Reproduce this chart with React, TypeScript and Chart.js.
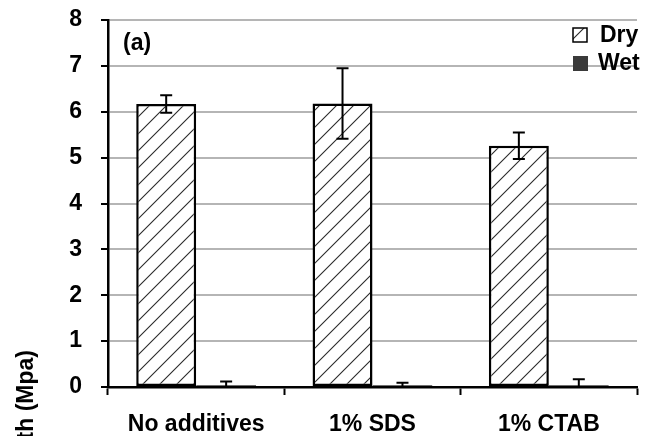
import React, { useEffect, useRef } from "react";
import { Chart, registerables } from "chart.js";

Chart.register(...registerables);

const categories = ["No additives", "1% SDS", "1% CTAB"];
const dryValues = [6.17, 6.18, 5.26];
const dryErrors = [0.19, 0.77, 0.29];
const wetValues = [0.04, 0.04, 0.04];
const wetErrors = [0.08, 0.05, 0.13];
const yTicks = [0, 1, 2, 3, 4, 5, 6, 7, 8];

const FONT = "Arial, 'Liberation Sans', sans-serif";

function makeHatch(): CanvasPattern | string {
  const c = document.createElement("canvas");
  const s = 17;
  c.width = s;
  c.height = s;
  const g = c.getContext("2d");
  if (!g) return "#fff";
  g.fillStyle = "#ffffff";
  g.fillRect(0, 0, s, s);
  g.strokeStyle = "#2a2a2a";
  g.lineWidth = 1.1;
  g.beginPath();
  g.moveTo(0, s);
  g.lineTo(s, 0);
  g.moveTo(-2, 2);
  g.lineTo(2, -2);
  g.moveTo(s - 2, s + 2);
  g.lineTo(s + 2, s - 2);
  g.stroke();
  const p = g.createPattern(c, "repeat");
  return p || "#fff";
}

export default function App() {
  const ref = useRef<HTMLCanvasElement | null>(null);

  useEffect(() => {
    if (!ref.current) return;
    const hatch = makeHatch();
    const errs = [dryErrors, wetErrors];

    const errorPlugin = {
      id: "errbars",
      afterDatasetsDraw(chart: any) {
        const ctx = chart.ctx;
        const y = chart.scales.y;
        ctx.save();
        ctx.strokeStyle = "#000";
        ctx.lineWidth = 2;
        chart.data.datasets.forEach((ds: any, di: number) => {
          const meta = chart.getDatasetMeta(di);
          meta.data.forEach((bar: any, i: number) => {
            const v = ds.data[i];
            const e = errs[di][i];
            const yt = y.getPixelForValue(v + e);
            const yb = y.getPixelForValue(Math.max(0, v - e));
            const x = bar.x;
            ctx.beginPath();
            ctx.moveTo(x, yt);
            ctx.lineTo(x, yb);
            ctx.moveTo(x - 6, yt);
            ctx.lineTo(x + 6, yt);
            ctx.moveTo(x - 6, yb);
            ctx.lineTo(x + 6, yb);
            ctx.stroke();
          });
        });
        ctx.restore();
      },
    };

    const decorPlugin = {
      id: "decor",
      afterDraw(chart: any) {
        const ctx = chart.ctx;
        ctx.save();
        ctx.fillStyle = "#000";
        ctx.font = `bold 23px ${FONT}`;
        ctx.textBaseline = "middle";
        ctx.textAlign = "left";
        ctx.fillText("(a)", 123, 44);

        // legend
        ctx.lineWidth = 1.5;
        ctx.fillStyle = hatch as any;
        ctx.fillRect(573, 28, 14, 14);
        ctx.strokeStyle = "#000";
        ctx.strokeRect(573, 28, 14, 14);
        ctx.fillStyle = "#3a3a3a";
        ctx.fillRect(573, 56, 15, 15);
        ctx.fillStyle = "#000";
        ctx.font = `bold 23px ${FONT}`;
        ctx.fillText("Dry", 600, 36);
        ctx.fillText("Wet", 598, 64);

        // y title (clipped)
        ctx.translate(27, 350);
        ctx.rotate(-Math.PI / 2);
        ctx.textAlign = "right";
        ctx.font = `bold 23px ${FONT}`;
        ctx.fillText("Tensile strength (Mpa)", 0, 0);
        ctx.restore();
      },
    };

    const chart = new Chart(ref.current, {
      type: "bar",
      data: {
        labels: categories,
        datasets: [
          {
            label: "Dry",
            data: dryValues,
            backgroundColor: hatch as any,
            borderColor: "#000",
            borderWidth: 2.5,
            borderSkipped: false,
          },
          {
            label: "Wet",
            data: wetValues,
            backgroundColor: "#333",
            borderColor: "#000",
            borderWidth: 2,
            borderSkipped: false,
          },
        ],
      },
      options: {
        responsive: false,
        animation: false,
        devicePixelRatio: 1,
        layout: { padding: { top: 20, right: 9, left: 0, bottom: 0 } },
        datasets: {
          bar: { categoryPercentage: 0.68, barPercentage: 1 },
        },
        plugins: {
          legend: { display: false },
          tooltip: { enabled: false },
        },
        scales: {
          x: {
            offset: true,
            grid: {
              offset: true,
              drawOnChartArea: false,
              drawTicks: true,
              tickLength: 8,
              tickColor: "#000",
              tickWidth: 2,
            },
            border: { color: "#000", width: 2.5 },
            ticks: {
              color: "#000",
              font: { family: FONT, size: 23, weight: "bold" },
              padding: 16,
              maxRotation: 0,
              autoSkip: false,
            },
            afterFit(scale: any) {
              scale.height = 49;
              scale.paddingLeft = 0;
              scale.paddingRight = 0;
            },
          },
          y: {
            min: 0,
            max: 8,
            afterBuildTicks(scale: any) {
              scale.ticks = yTicks.map((v) => ({ value: v }));
            },
            grid: {
              color: "#b5b5b5",
              lineWidth: 2,
              drawTicks: true,
              tickLength: 7,
              tickColor: "#000",
              tickWidth: 2,
            },
            border: { color: "#000", width: 2.5 },
            ticks: {
              color: "#000",
              font: { family: FONT, size: 23, weight: "bold" },
              padding: 19,
            },
            afterFit(scale: any) {
              scale.width = 108;
              scale.paddingTop = 0;
              scale.paddingBottom = 0;
            },
          },
        },
      },
      plugins: [errorPlugin, decorPlugin],
    });
    return () => chart.destroy();
  }, []);

  return (
    <div style={{ position: "fixed", left: 0, top: 0, width: 646, height: 436, background: "#fff" }}>
      <canvas ref={ref} width={646} height={436} style={{ width: 646, height: 436 }} />
    </div>
  );
}
